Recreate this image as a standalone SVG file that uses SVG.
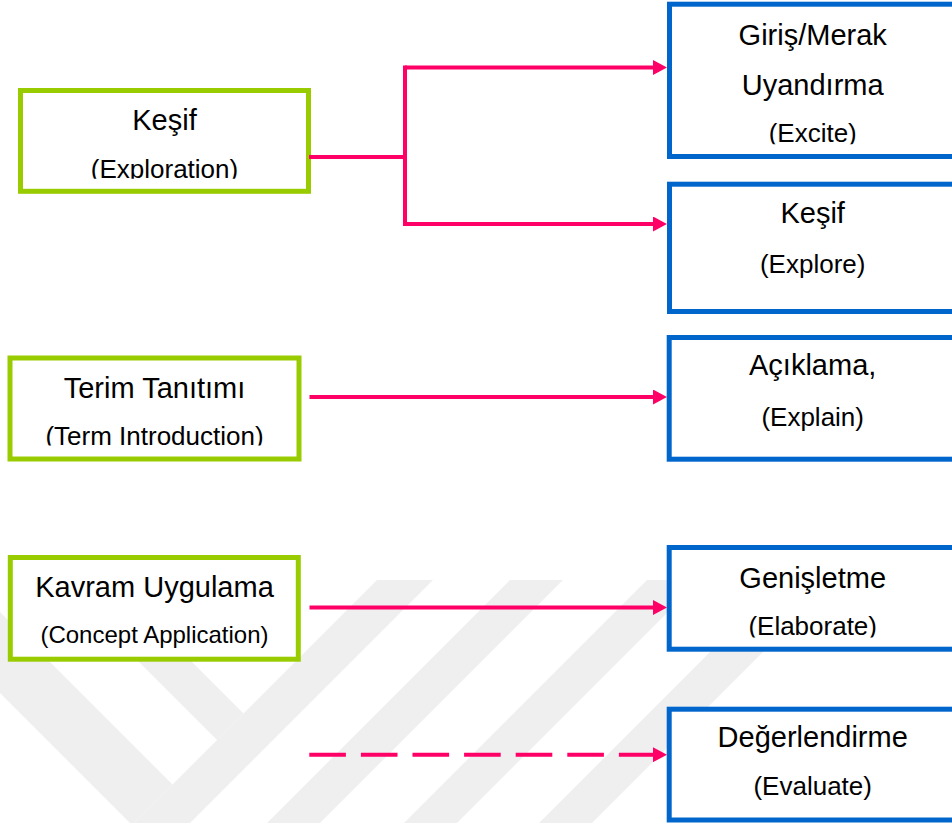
<svg xmlns="http://www.w3.org/2000/svg" width="952" height="823" viewBox="0 0 952 823">
<defs>
<style>
.g{fill:#fff;stroke:#99CC00;stroke-width:5}
.b{fill:#fff;stroke:#0066CC;stroke-width:5}
.t{font-family:"Liberation Sans",Arial,sans-serif;fill:#000;text-anchor:middle;font-size:29px}
.s{font-size:26px}
.xs{font-size:24px}
.c{stroke:#FF0066;stroke-width:4;fill:none}
.w{fill:#efefef}
</style>
<marker id="ah" viewBox="0 0 14 15" refX="1" refY="7.5" markerWidth="14" markerHeight="15" markerUnits="userSpaceOnUse" orient="auto">
<path d="M0,0 L14,7.5 L0,15 z" fill="#FF0066"/>
</marker>
<clipPath id="clipA"><rect x="0" y="0" width="952" height="178.8"/></clipPath>
<clipPath id="clipB"><rect x="0" y="0" width="952" height="144.3"/></clipPath>
<clipPath id="clipC"><rect x="0" y="0" width="952" height="445.5"/></clipPath>
<clipPath id="clipD"><rect x="0" y="0" width="952" height="637.5"/></clipPath>
</defs>
<rect x="0" y="0" width="952" height="823" fill="#fff"/>
<g id="watermark">
<polygon class="w" points="0,612 172.5,784.5 132,825 0,693"/>
<polygon class="w" points="110,580 243.5,713.5 217,740 57,580"/>
<polygon class="w" points="377,580 433,580 183,830 127,830"/>
<polygon class="w" points="510,580 563,580 313,830 260,830"/>
<polygon class="w" points="647,580 700,580 450,830 397,830"/>
<polygon class="w" points="782,580 835,580 585,830 532,830"/>
</g>
<g id="node-kesif-exploration">
<rect class="g" x="20.5" y="90.5" width="288" height="100.8"/>
<text class="t" x="164.5" y="130">Keşif</text>
<text class="t s" x="164.5" y="178.3" clip-path="url(#clipA)">(Exploration)</text>
</g>
<g id="node-terim">
<rect class="g" x="10" y="358" width="289" height="101"/>
<text class="t" x="154.5" y="398.3">Terim Tanıtımı</text>
<text class="t s" x="154.5" y="444.7" clip-path="url(#clipC)">(Term Introduction)</text>
</g>
<g id="node-kavram">
<rect class="g" x="10.3" y="557.5" width="288" height="101.7"/>
<text class="t" x="154.5" y="597.3">Kavram Uygulama</text>
<text class="t xs" x="154.5" y="642.7">(Concept Application)</text>
</g>
<g id="node-excite">
<rect class="b" x="669.5" y="4.2" width="300" height="152.3"/>
<text class="t" x="812.7" y="45.3">Giriş/Merak</text>
<text class="t" x="812.7" y="95.3">Uyandırma</text>
<text class="t s" x="812.7" y="141.7" clip-path="url(#clipB)">(Excite)</text>
</g>
<g id="node-explore">
<rect class="b" x="669.5" y="184.2" width="300" height="127.3"/>
<text class="t" x="812.7" y="222.7">Keşif</text>
<text class="t s" x="812.7" y="273.3">(Explore)</text>
</g>
<g id="node-explain">
<rect class="b" x="669.2" y="337.5" width="300" height="121.7"/>
<text class="t" x="812.7" y="375">Açıklama,</text>
<text class="t s" x="812.7" y="426">(Explain)</text>
</g>
<g id="node-elaborate">
<rect class="b" x="669.2" y="547.5" width="300" height="101.7"/>
<text class="t" x="812.7" y="588.3">Genişletme</text>
<text class="t s" x="812.7" y="635.3" clip-path="url(#clipD)">(Elaborate)</text>
</g>
<g id="node-evaluate">
<rect class="b" x="669.2" y="709.2" width="300" height="110.8"/>
<text class="t" x="812.7" y="746.7">Değerlendirme</text>
<text class="t s" x="812.7" y="795">(Evaluate)</text>
</g>
<g id="connectors">
<path class="c" d="M309,157 H405"/>
<path class="c" d="M405,65.5 V226"/>
<path class="c" d="M405,67.5 H654" marker-end="url(#ah)"/>
<path class="c" d="M405,224 H654" marker-end="url(#ah)"/>
<path class="c" d="M309.5,397 H654" marker-end="url(#ah)"/>
<path class="c" d="M309.5,607.5 H654" marker-end="url(#ah)"/>
<path class="c" d="M309.3,754.7 H654" stroke-dasharray="36.6 15" marker-end="url(#ah)"/>
</g>
</svg>
